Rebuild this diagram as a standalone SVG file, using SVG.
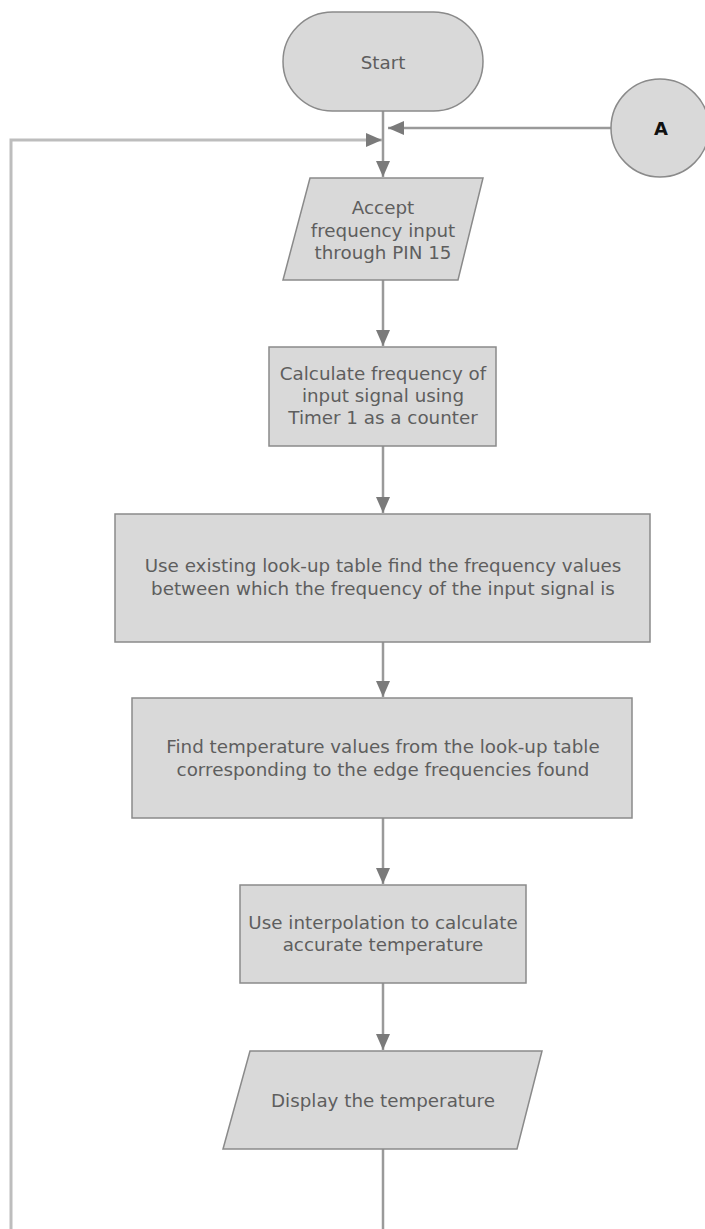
<svg xmlns="http://www.w3.org/2000/svg" width="705" height="1229" viewBox="0 0 705 1229">
  <style>
    .node { fill: #d9d9d9; stroke: #8a8a8a; stroke-width: 1.5; }
    .label { font-family: "DejaVu Sans", Verdana, sans-serif; font-size: 18.3px; fill: #5e5e5e; text-anchor: middle; }
    .conn { fill: none; stroke: #9a9a9a; stroke-width: 2.5; }
    .loop { fill: none; stroke: #bdbdbd; stroke-width: 3; }
  </style>
  <defs>
    <marker id="arrow" markerUnits="userSpaceOnUse" markerWidth="18" markerHeight="14" refX="16" refY="7" orient="auto">
      <path d="M0,0 L16,7 L0,14 Z" fill="#7a7a7a"/>
    </marker>
  </defs>
  <rect width="705" height="1229" fill="#ffffff"/>

  <g id="connectors">
    <path class="conn" d="M383,111 V177" marker-end="url(#arrow)"/>
    <path class="conn" d="M612,128 H388" marker-end="url(#arrow)"/>
    <path class="loop" d="M11,1229 V140 H382" marker-end="url(#arrow)"/>
    <path class="conn" d="M383,280 V346" marker-end="url(#arrow)"/>
    <path class="conn" d="M383,446 V513" marker-end="url(#arrow)"/>
    <path class="conn" d="M383,642 V697" marker-end="url(#arrow)"/>
    <path class="conn" d="M383,818 V884" marker-end="url(#arrow)"/>
    <path class="conn" d="M383,983 V1050" marker-end="url(#arrow)"/>
    <path class="conn" d="M383,1149 V1229"/>
  </g>

  <g id="start">
    <rect class="node" x="283" y="12" width="200" height="99" rx="49.5" ry="49.5"/>
    <text class="label" x="383" y="69">Start</text>
  </g>

  <g id="connector-a">
    <circle class="node" cx="660" cy="128" r="49"/>
    <text x="661" y="134.5" font-family="DejaVu Sans, Verdana, sans-serif" font-size="18" font-weight="bold" fill="#111" text-anchor="middle">A</text>
  </g>

  <g id="accept-input">
    <polygon class="node" points="310,178 483,178 458,280 283,280"/>
    <text class="label" x="383" y="214">Accept</text>
    <text class="label" x="383" y="236.5">frequency input</text>
    <text class="label" x="383" y="259">through PIN 15</text>
  </g>

  <g id="calc-frequency">
    <rect class="node" x="269" y="347" width="227" height="99"/>
    <text class="label" x="383" y="380">Calculate frequency of</text>
    <text class="label" x="383" y="402">input signal using</text>
    <text class="label" x="383" y="424">Timer 1 as a counter</text>
  </g>

  <g id="lookup-frequency">
    <rect class="node" x="115" y="514" width="535" height="128"/>
    <text class="label" x="383" y="572">Use existing look-up table find the frequency values</text>
    <text class="label" x="383" y="595">between which the frequency of the input signal is</text>
  </g>

  <g id="lookup-temperature">
    <rect class="node" x="132" y="698" width="500" height="120"/>
    <text class="label" x="383" y="753">Find temperature values from the look-up table</text>
    <text class="label" x="383" y="776">corresponding to the edge frequencies found</text>
  </g>

  <g id="interpolate">
    <rect class="node" x="240" y="885" width="286" height="98"/>
    <text class="label" x="383" y="929">Use interpolation to calculate</text>
    <text class="label" x="383" y="951">accurate temperature</text>
  </g>

  <g id="display">
    <polygon class="node" points="250,1051 542,1051 517,1149 223,1149"/>
    <text class="label" x="383" y="1107">Display the temperature</text>
  </g>
</svg>
